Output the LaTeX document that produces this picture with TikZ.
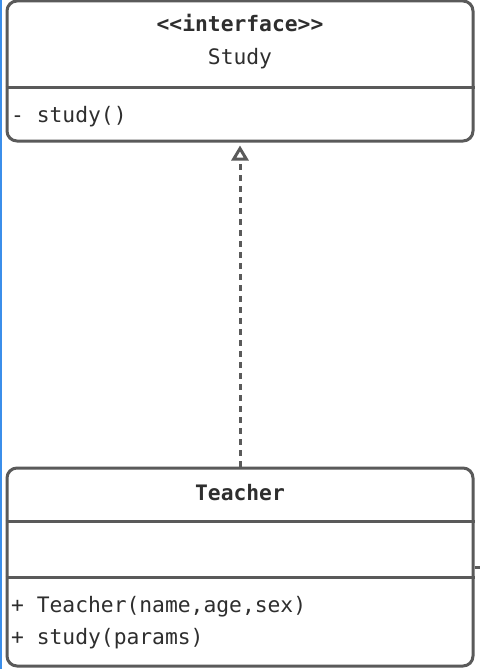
\documentclass[tikz,border=0pt]{standalone}
\usepackage{fontspec}
\setmonofont{DejaVu Sans Mono}
\usetikzlibrary{arrows.meta}
\definecolor{linegray}{HTML}{5A5A5A}
\definecolor{txtgray}{HTML}{2E2E2E}
\definecolor{edgeblue}{HTML}{3B8EEA}
\tikzset{
  classbox/.style={draw=linegray, line width=3pt, rounded corners=10pt, fill=white, inner sep=0pt},
  divider/.style={draw=linegray, line width=3pt},
  txt/.style={font=\fontsize{21.3}{24}\selectfont\ttfamily, text=txtgray, inner sep=0pt},
  btxt/.style={txt, font=\fontsize{21.3}{24}\selectfont\ttfamily\bfseries},
  realize/.style={draw=linegray, line width=3pt, dash pattern=on 6pt off 5pt, -{Triangle[open, width=17pt, length=15pt, line width=3pt]}}
}
\begin{document}
\begin{tikzpicture}[x=1pt,y=-1pt]
\useasboundingbox (0,0) rectangle (480,669);
\fill[white] (0,0) rectangle (480,669);
% left edge artifact
\draw[edgeblue, line width=2pt] (1,0) -- (1,669);

% Interface box
\node[classbox, minimum width=466pt, minimum height=140pt] (study) at (240,71) {};
\draw[divider] (study.west |- 0,87) coordinate (sd1) -- (study.east |- 0,87) coordinate (sd2);
\node[btxt, anchor=base] (stereo) at (240,32) {<<interface>>};
\node[txt, anchor=base] (sname) at (240,65) {Study};
\node[txt, anchor=base west] (smeth) at (11,122) {- study()};

% Teacher box
\node[classbox, minimum width=466pt, minimum height=198pt] (teacher) at (240,567) {};
\draw[divider] (teacher.west |- 0,521) coordinate (td1) -- (teacher.east |- 0,521) coordinate (td2);
\draw[divider] (teacher.west |- 0,577) coordinate (td3) -- (teacher.east |- 0,577) coordinate (td4);
\node[btxt, anchor=base] (tname) at (240,500.5) {Teacher};
\node[txt, anchor=base west] (tm1) at (11,612) {+ Teacher(name,age,sex)};
\node[txt, anchor=base west] (tm2) at (11,644) {+ study(params)};

% right stub
\coordinate (stub) at (480,567);
\draw[divider] (teacher.east |- stub) -- (stub);

% realization
\draw[realize, shorten >=3pt] (teacher.north) -- (study.south);
\end{tikzpicture}
\end{document}
